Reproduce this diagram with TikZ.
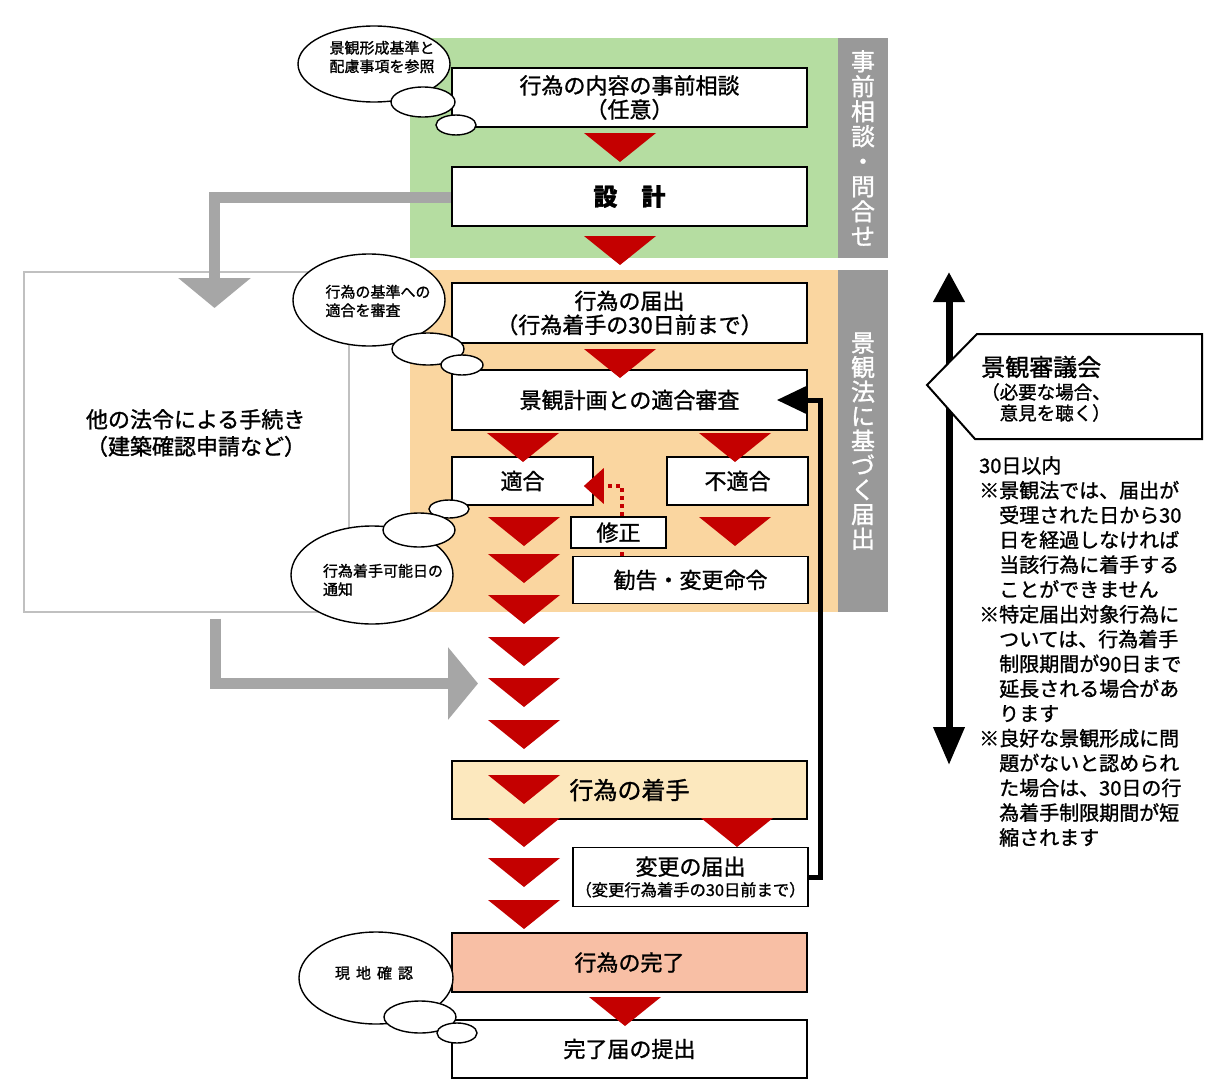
\documentclass[tikz,border=0pt]{standalone}
\usepackage{fontspec}
\setmainfont{Noto Sans CJK JP}[FakeBold=1.2]
\usetikzlibrary{arrows.meta,calc,shapes.geometric}
\definecolor{grn}{RGB}{181,221,161}
\definecolor{org}{RGB}{250,214,160}
\definecolor{barg}{RGB}{153,153,153}
\definecolor{trired}{RGB}{196,0,0}
\definecolor{arrg}{RGB}{166,166,166}
\definecolor{startf}{RGB}{252,232,190}
\definecolor{donef}{RGB}{248,191,165}
\definecolor{lboxc}{RGB}{192,192,192}
\newcommand\fsz[2]{\fontsize{#1}{#2}\selectfont}
\begin{document}
\begin{tikzpicture}[x=1pt,y=-1pt,
  box/.style={draw=black,line width=1.6pt,fill=white,inner sep=0pt,align=center,
    minimum width=355pt,minimum height=59pt,font=\fsz{22}{24}},
  bar/.style={fill=barg,text=white,inner sep=0pt,align=center,minimum width=50pt,font=\fsz{24}{25}},
  bub/.style={ellipse,draw=black,line width=1.4pt,fill=white,inner sep=0pt},
  bubtext/.style={align=left,inner sep=0pt,font=\fsz{15}{18.5}},
  grayarr/.style={draw=arrg,line width=11pt,-{Triangle[width=71pt,length=30pt]}},
  blkarr/.style={draw=black,line width=5pt,-{Triangle[width=28pt,length=31pt]}},
  dotarr/.style={draw=trired,line width=4pt,dash pattern=on 4pt off 4pt,-{Triangle[width=35pt,length=20pt]}},
  dblarr/.style={draw=black,line width=7pt,{Triangle[width=30pt,length=30pt]}-{Triangle[width=30pt,length=38pt]}},
  penta/.style={draw=black,line width=2pt,fill=white},
  downtri/.pic={\fill[trired] (-36,0) -- (36,0) -- (0,29) -- cycle;}
]
\useasboundingbox (0,0) rectangle (1224,1081);
\fill[white] (0,0) rectangle (1224,1081);

% regions
\fill[grn] (410,38) rectangle (838,258);
\fill[org] (410,270) rectangle (838,612);
\node[bar,minimum height=220pt] (bar1) at (863,148) {事\\前\\相\\談\\・\\問\\合\\せ};
\node[bar,minimum height=342pt,font=\fsz{24}{24.5}] (bar2) at (863,441) {景\\観\\法\\に\\基\\づ\\く\\届\\出};

% other procedures box
\node[draw=lboxc,line width=1.3pt,minimum width=325pt,minimum height=340pt,inner sep=0pt] (other) at (186.5,442) {};
\node[align=left,inner sep=0pt,font=\fsz{22}{27}] (othertext) at (196,433) {他の法令による手続き\\（建築確認申請など）};

% gray arrows
\coordinate (gt1) at (214.5,308);
\draw[grayarr] (452,197.5) -| (gt1);
\coordinate (gt2) at (478,683.5);
\draw[grayarr] ($(other.south -| gt1)+(1,6)$) |- (gt2);

% boxes
\node[box] (b1) at (629.5,97.5) {行為の内容の事前相談\\（任意）};
\node[box,font=\fsz{24}{28}\bfseries] (b2) at (629.5,196.5) {設\hspace{1em}計};
\node[box,minimum height=60pt] (b3) at (629.5,313) {行為の届出\\（行為着手の30日前まで）};
\node[box,minimum height=60pt] (b4) at (629.5,400) {景観計画との適合審査};
\node[box,minimum width=141pt,minimum height=48pt] (b5) at (522.5,481) {適合};
\node[box,minimum width=141pt,minimum height=48pt] (b6) at (737.5,481) {不適合};
\node[box,minimum width=235pt,minimum height=47pt] (b7) at (690.5,580) {勧告・変更命令};
\draw[dotarr] ($(b7.north -| 618.5,0)+(3.5,0)$) |- ($(b5.east)+(-10,5)$);
\node[box,minimum width=95pt,minimum height=31pt] (mod) at (618.5,532.5) {修正};
\node[box,fill=startf,minimum height=58pt,font=\fsz{24}{28}] (b8) at (629.5,790) {行為の着手};
\node[box,minimum width=235pt,minimum height=59pt] (b9) at (690.5,877) {変更の届出\\[-3pt]{\fsz{16.3}{20}（変更行為着手の30日前まで）}};
\node[box,fill=donef,minimum height=59pt] (b10) at (629.5,962.5) {行為の完了};
\node[box,minimum height=58pt] (b11) at (629.5,1049) {完了届の提出};

% black feedback arrow
\draw[blkarr] (b9.east) -- ++(12,0) |- ($(b4.east)+(-31,0)$);

% red triangles
\foreach \y in {133,236,349} \pic at (620,\y) {downtri};
\pic at (523,433) {downtri};
\pic at (735,433) {downtri};
\foreach \y in {517,554,595,637,678,720,775,818,858,900} \pic at (524,\y) {downtri};
\pic at (735,517) {downtri};
\pic at (737,818) {downtri};
\pic at (625,997) {downtri};

% bubbles
\node[bub,minimum width=152pt,minimum height=76pt] (bu1) at (374,64) {};
\node[bub,minimum width=64pt,minimum height=30pt] (bu1m) at (423,102) {};
\node[bub,minimum width=40pt,minimum height=20pt] (bu1s) at (456,125) {};
\node[bubtext] (bt1) at (382,57) {景観形成基準と\\配慮事項を参照};

\node[bub,minimum width=152pt,minimum height=92pt] (bu2) at (369,300) {};
\node[bub,minimum width=72pt,minimum height=32pt] (bu2m) at (428,349) {};
\node[bub,minimum width=42pt,minimum height=20pt] (bu2s) at (462,365) {};
\node[bubtext] (bt2) at (378,301) {行為の基準への\\適合を審査};

\node[bub,minimum width=162pt,minimum height=98pt] (bu3) at (372,575) {};
\node[bub,minimum width=40pt,minimum height=18pt] (bu3s) at (449,509) {};
\node[bub,minimum width=72pt,minimum height=34pt] (bu3m) at (419,530) {};
\node[bubtext] (bt3) at (383,580) {行為着手可能日の\\通知};

\node[bub,minimum width=154pt,minimum height=92pt] (bu4) at (376,978) {};
\node[bub,minimum width=72pt,minimum height=32pt] (bu4m) at (420,1017) {};
\node[bub,minimum width=40pt,minimum height=20pt] (bu4s) at (457,1033) {};
\node[bubtext] (bt4) at (374,973) {現\hspace{6pt}地\hspace{6pt}確\hspace{6pt}認};

% right side
\coordinate (dtop) at (949,272);
\coordinate (dbot) at (949,765);
\draw[dblarr] (dtop) -- (dbot);
\draw[penta] (927,385) -- (977,334) -- (1202,334) -- (1202,439) -- (975,439) -- cycle;
\node[anchor=west,inner sep=0pt,font=\fsz{24}{28}] (council) at (981,367) {景観審議会};
\node[anchor=north west,inner sep=0pt,align=left,font=\fsz{18.5}{21}] (councilsub) at (981,383) {（必要な場合、\\\hspace*{1em}意見を聴く）};

\node[anchor=north west,inner sep=0pt,align=left,font=\fsz{20}{24.8}] (note) at (979,456) {30日以内\\
※景観法では、届出が\\
\hspace*{1em}受理された日から30\\
\hspace*{1em}日を経過しなければ\\
\hspace*{1em}当該行為に着手する\\
\hspace*{1em}ことができません\\
※特定届出対象行為に\\
\hspace*{1em}ついては、行為着手\\
\hspace*{1em}制限期間が90日まで\\
\hspace*{1em}延長される場合があ\\
\hspace*{1em}ります\\
※良好な景観形成に問\\
\hspace*{1em}題がないと認められ\\
\hspace*{1em}た場合は、30日の行\\
\hspace*{1em}為着手制限期間が短\\
\hspace*{1em}縮されます};
\end{tikzpicture}
\end{document}
